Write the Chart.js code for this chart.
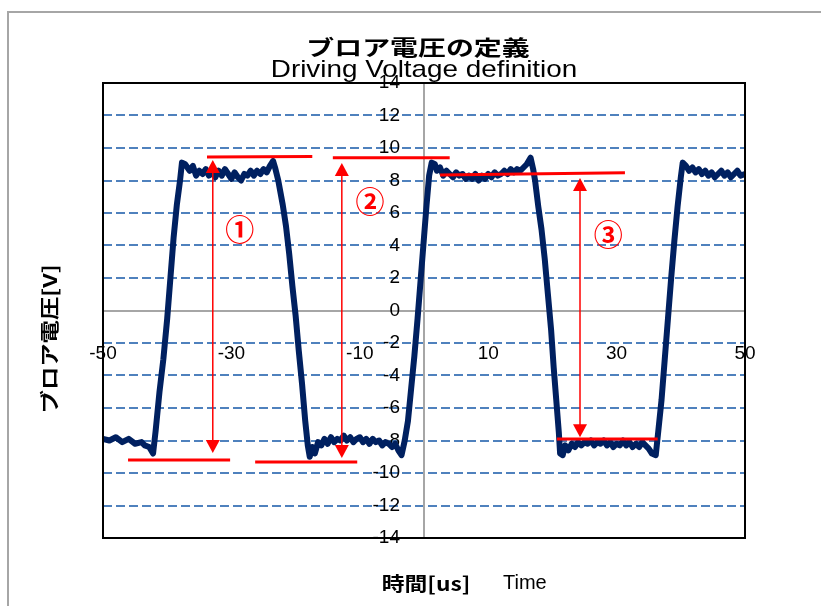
<!DOCTYPE html>
<html>
<head>
<meta charset="utf-8">
<script src="https://cdn.jsdelivr.net/npm/chart.js@4.4.0/dist/chart.umd.min.js"></script>
<style>
  html, body { margin: 0; padding: 0; background: #fff; }
</style>
</head>
<body>
<canvas id="chart" width="821" height="606"></canvas>
<script>
// === DATA ===
// measured drive waveform (time in us, voltage in V)
const timeUs = [
  -50, -49, -48, -47, -46, -45, -44, -43.5, -42.8, -42.2,
  -41.8, -41.2, -40.6, -40.0, -39.5, -39.0, -38.5, -38.0, -37.7,
  -37.2, -36.5, -36, -35.5, -35, -34.5, -34, -33.5, -33, -32.5, -32, -31.5, -31, -30.5, -30,
  -29.5, -29, -28.5, -28, -27.5, -27, -26.5, -26, -25.5, -25, -24.5, -24, -23.5, -23.2,
  -22.7, -22.0, -21.5, -21.0, -20.5, -20.0, -19.5, -19.0, -18.5, -18.1, -17.8,
  -17.4, -17, -16.5, -16, -15.5, -15, -14.5, -14, -13.5, -13, -12.5, -12, -11.5, -11, -10.5, -10,
  -9.5, -9, -8.5, -8, -7.5, -7, -6.5, -6, -5.5, -5, -4.5, -4, -3.5,
  -3.0, -2.5, -2.0, -1.5, -1.0, -0.5, 0, 0.4, 0.8, 1.2,
  1.7, 2, 2.5, 3, 3.5, 4, 4.5, 5, 5.5, 6, 6.5, 7, 7.5, 8, 8.5, 9, 9.5, 10,
  10.5, 11, 11.5, 12, 12.5, 13, 13.5, 14, 14.5, 15, 15.5, 16, 16.6, 17,
  17.3, 17.8, 18.3, 18.8, 19.3, 19.8, 20.2, 20.6, 21.0, 21.2,
  21.6, 22, 22.5, 23, 23.5, 24, 24.5, 25, 25.5, 26, 26.5, 27, 27.5, 28, 28.5, 29, 29.5, 30,
  30.5, 31, 31.5, 32, 32.5, 33, 33.5, 34, 34.5, 35, 35.5,
  36.1, 36.5, 37, 37.5, 38, 38.5, 39, 39.5, 40, 40.3,
  40.8, 41.3, 41.8, 42.3, 42.8, 43.3, 43.8, 44.3, 44.8, 45.3, 45.8, 46.3, 46.8, 47.3, 47.8,
  48.3, 48.8, 49.3, 50
];
const voltage = [
  -7.9, -8.0, -7.8, -8.1, -7.9, -8.2, -8.1, -8.3, -8.4, -8.8,
  -7.4, -5.0, -3.0, -0.5, 2.0, 4.5, 6.5, 8.0, 9.1,
  9.0, 8.6, 8.9, 8.3, 8.6, 8.4, 8.7, 8.3, 8.5, 8.2, 8.6, 8.3, 8.7, 8.4, 8.1,
  8.5, 8.2, 8.0, 8.4, 8.3, 8.6, 8.3, 8.6, 8.4, 8.7, 8.5, 8.9, 9.2, 8.8,
  8.0, 6.5, 5.2, 3.5, 1.5, -0.3, -2.5, -4.5, -6.8, -8.3, -9.0,
  -8.4, -8.8, -8.1, -8.3, -7.9, -8.2, -7.8, -8.1, -7.9, -8.0, -7.7, -8.0, -7.8, -8.1, -7.9, -7.8,
  -8.1, -7.9, -8.2, -7.9, -8.1, -8.0, -8.3, -8.1, -8.2, -8.4, -8.2, -8.6, -8.9,
  -8.0, -6.8, -4.8, -2.8, -0.5, 2.0, 4.5, 6.5, 8.3, 9.1,
  9.0, 8.6, 8.8, 8.3, 8.6, 8.4, 8.2, 8.5, 8.3, 8.4, 8.1, 8.3, 8.1, 8.4, 8.0, 8.3, 8.1, 8.4,
  8.2, 8.5, 8.3, 8.4, 8.6, 8.4, 8.7, 8.5, 8.7, 8.6, 8.8, 9.0, 9.4, 8.7,
  8.0, 6.4, 5.0, 3.2, 1.0, -1.2, -3.5, -5.5, -7.5, -8.8,
  -8.9, -8.3, -8.6, -8.2, -8.4, -8.1, -8.3, -8.1, -8.2, -8.0, -8.3, -8.1, -8.2, -8.0, -8.3, -8.1, -8.4, -8.2,
  -8.3, -8.0, -8.3, -8.1, -8.4, -8.2, -8.4, -8.1, -8.3, -8.5, -8.8,
  -8.9, -7.4, -5.5, -3.0, -0.5, 2.0, 4.3, 6.4, 8.2, 9.1,
  8.9, 8.6, 8.8, 8.5, 8.7, 8.4, 8.6, 8.3, 8.5, 8.2, 8.4, 8.6, 8.3, 8.5, 8.2,
  8.4, 8.6, 8.3, 8.4
];

const xTicks = [-50, -30, -10, 10, 30, 50];
const yTicks = [-14, -12, -10, -8, -6, -4, -2, 0, 2, 4, 6, 8, 10, 12, 14];

// red level markers (start/end of each segment)
const levelX0 = [-33.8, -14.2, -46.1, -26.3, 2.5, 20.7];
const levelX1 = [-17.4, 4.0, -30.2, -10.4, 31.3, 36.4];
const levelY0 = [9.45, 9.4, -9.2, -9.32, 8.34, -7.9];
const levelY1 = [9.47, 9.4, -9.2, -9.32, 8.48, -7.9];

// double arrows between levels
const arrowX = [-32.9, -12.8, 24.3];
const arrowTop = [9.26, 9.08, 8.15];
const arrowBottom = [-8.77, -9.08, -7.8];

// circled labels
const markText = ['①', '②', '③'];
const markX = [-28.7, -8.4, 28.7];
const markY = [4.95, 6.7, 4.65];

const RED = '#ff0000';
const NAVY = '#002060';
const AXIS_GRAY = '#a6a6a6';
const JP = '"Noto Sans CJK JP"';
const LAT = '"Liberation Sans"';

// === DATASETS ===
const levelSets = levelX0.map((x0, i) => ({
  data: [{ x: x0, y: levelY0[i] }, { x: levelX1[i], y: levelY1[i] }],
  borderColor: RED,
  borderWidth: 3,
  pointRadius: 0,
  order: 0
}));

const waveSet = {
  data: timeUs.map((t, i) => ({ x: t, y: voltage[i] })),
  borderColor: NAVY,
  borderWidth: 6,
  borderJoinStyle: 'round',
  borderCapStyle: 'round',
  pointRadius: 0,
  order: 1
};

// stretched text helper (the original chart text is widened)
function drawText(ctx, text, x, y, font, sx, align, rot) {
  ctx.save();
  ctx.translate(x, y);
  if (rot) ctx.rotate(rot);
  ctx.scale(sx, 1);
  ctx.font = font;
  ctx.fillStyle = '#000';
  ctx.textAlign = align || 'center';
  ctx.textBaseline = 'middle';
  ctx.fillText(text, 0, 0);
  ctx.restore();
}

const decorPlugin = {
  id: 'decor',
  beforeDraw(chart) {
    const ctx = chart.ctx;
    ctx.save();
    ctx.fillStyle = '#fff';
    ctx.fillRect(0, 0, chart.width, chart.height);
    ctx.strokeStyle = AXIS_GRAY;
    ctx.lineWidth = 2;
    ctx.strokeRect(8, 12, chart.width + 20, chart.height + 20);
    ctx.restore();
  },
  beforeDatasetsDraw(chart) {
    // vertical zero axis (y labels sit a little left of it)
    const { ctx, chartArea: a, scales: { x } } = chart;
    const px = Math.round(x.getPixelForValue(0));
    ctx.save();
    ctx.strokeStyle = AXIS_GRAY;
    ctx.lineWidth = 2;
    ctx.beginPath();
    ctx.moveTo(px, a.top);
    ctx.lineTo(px, a.bottom);
    ctx.stroke();
    ctx.restore();
  },
  afterDatasetsDraw(chart) {
    const { ctx, chartArea: a, scales: { x, y } } = chart;
    ctx.save();
    // plot frame
    ctx.strokeStyle = '#000';
    ctx.lineWidth = 2;
    ctx.strokeRect(a.left, a.top, a.width, a.height);

    // arrows
    ctx.strokeStyle = RED;
    ctx.fillStyle = RED;
    ctx.lineWidth = 1.5;
    const head = (px, tip, dir) => {
      ctx.beginPath();
      ctx.moveTo(px, tip);
      ctx.lineTo(px - 7, tip + dir * 13);
      ctx.lineTo(px + 7, tip + dir * 13);
      ctx.closePath();
      ctx.fill();
    };
    arrowX.forEach((v, i) => {
      const px = x.getPixelForValue(v);
      const top = y.getPixelForValue(arrowTop[i]);
      const bot = y.getPixelForValue(arrowBottom[i]);
      ctx.beginPath();
      ctx.moveTo(px, top + 10);
      ctx.lineTo(px, bot - 10);
      ctx.stroke();
      head(px, top, 1);
      head(px, bot, -1);
    });

    // circled numbers
    ctx.font = 'bold 29px ' + JP;
    ctx.textAlign = 'center';
    ctx.textBaseline = 'middle';
    markText.forEach((t, i) => {
      ctx.fillText(t, x.getPixelForValue(markX[i]), y.getPixelForValue(markY[i]));
    });
    ctx.restore();
  },
  afterDraw(chart) {
    const ctx = chart.ctx;
    // titles
    drawText(ctx, 'ブロア電圧の定義', 418, 47, 'bold 21px ' + JP, 1.33);
    drawText(ctx, 'Driving Voltage definition', 424, 70, '24px ' + LAT, 1.16);
    // axis titles
    drawText(ctx, 'ブロア電圧[V]', 50, 339, 'bold 19px ' + JP, 1.23, 'center', -Math.PI / 2);
    drawText(ctx, '時間[us]', 426, 584, 'bold 19px ' + JP, 1.2);
    drawText(ctx, 'Time', 503, 583, '20px ' + LAT, 1, 'left');
  }
};

const tickFont = { family: 'Liberation Sans', size: 19 };

new Chart(document.getElementById('chart'), {
  type: 'line',
  data: { datasets: [...levelSets, waveSet] },
  plugins: [decorPlugin],
  options: {
    responsive: false,
    animation: false,
    devicePixelRatio: 1,
    layout: { padding: { left: 103, top: 83, right: 76, bottom: 68 } },
    plugins: {
      legend: { display: false },
      tooltip: { enabled: false }
    },
    scales: {
      x: {
        type: 'linear',
        min: -50,
        max: 50,
        position: { y: 0 },
        afterFit: (s) => { s.height = 0; },
        afterBuildTicks: (s) => { s.ticks = xTicks.map(v => ({ value: v })); },
        grid: { display: false },
        border: { display: true, color: AXIS_GRAY, width: 2 },
        ticks: { font: tickFont, color: '#000', padding: 24, maxRotation: 0, autoSkip: false }
      },
      y: {
        type: 'linear',
        min: -14,
        max: 14,
        // label column sits just left of the zero line
        position: { x: -3.74 },
        afterFit: (s) => { s.width = 0; },
        afterBuildTicks: (s) => { s.ticks = yTicks.map(v => ({ value: v })); },
        grid: {
          color: (c) => (c.tick && [0, 14, -14].includes(c.tick.value)) ? 'rgba(0,0,0,0)' : '#4f81bd',
          lineWidth: 2,
          drawTicks: false
        },
        border: { display: false, dash: [9, 4] },
        ticks: { font: tickFont, color: '#000', autoSkip: false }
      }
    }
  }
});
</script>
</body>
</html>
